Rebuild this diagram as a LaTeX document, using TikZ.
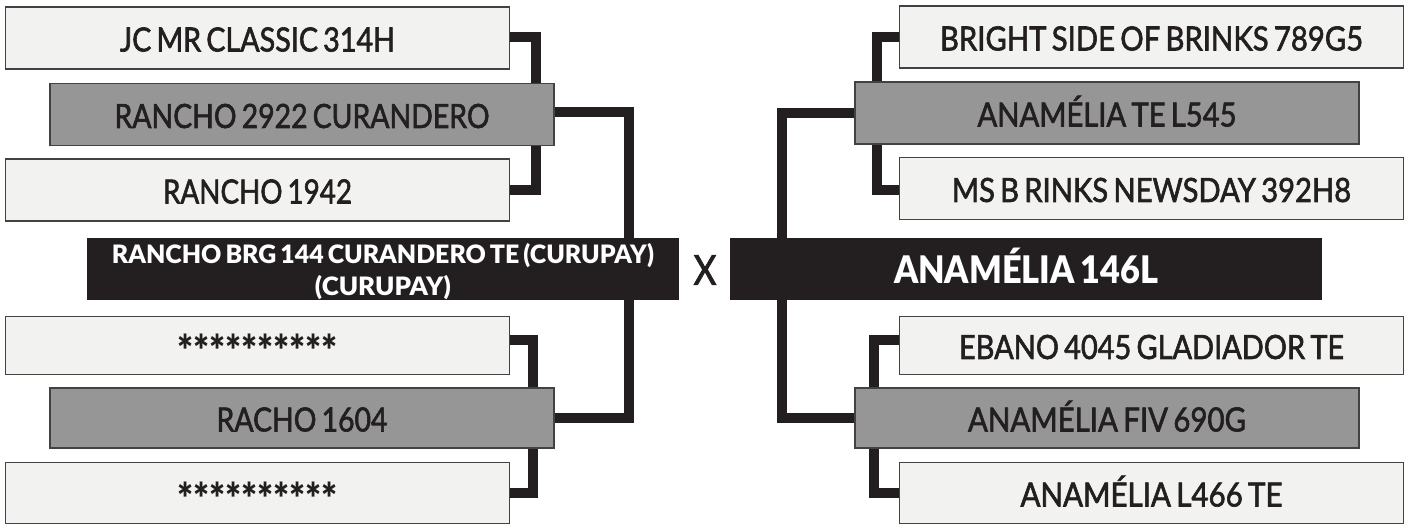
\documentclass[tikz,border=0pt]{standalone}
\usepackage{fontspec}
\usepackage{graphicx}
\setmainfont[FakeBold=2,WordSpace=0.7]{Lato}
\newfontfamily\heavy[WordSpace=0.7]{Lato Black}
\usetikzlibrary{backgrounds}
\newlength\pxu \setlength\pxu{0.75pt}
\newcommand\fitw[2]{\resizebox{#1\pxu}{\height}{#2}}
\newcommand\starsrow{\fitw{161}{\fontsize{32pt}{32pt}\selectfont\heavy **********}}
\definecolor{ink}{HTML}{231F20}
\definecolor{pale}{HTML}{F2F2F0}
\definecolor{midgrey}{HTML}{969696}
\tikzset{
  x=0.75pt,y=-0.75pt,
  ancestor/.style={draw=ink!85,line width=0.9pt,inner sep=0pt,outer sep=0pt,align=center,text=ink,
    text height=20.2pt,text depth=0pt,font=\fontsize{25pt}{28pt}\selectfont},
  palebox/.style={ancestor,fill=pale,minimum width=378pt,minimum height=46.5pt},
  greybox/.style={ancestor,fill=midgrey,minimum width=378pt,minimum height=46.5pt},
  starbox/.style={palebox,text height=32pt},
  rootbox/.style={fill=ink,text=white,inner sep=0pt,outer sep=0pt,align=center,minimum height=46.5pt},
  conn/.style={draw=ink,line width=7.5pt,line cap=butt,line join=miter},
}
\begin{document}
\begin{tikzpicture}
\useasboundingbox (0,0) rectangle (1409,524);
% left
\node[palebox,minimum height=46.5pt] (a1) at (257.5,38) {\fitw{275}{JC MR CLASSIC 314H}};
\node[greybox,minimum height=47pt] (a2) at (302,114.5) {\fitw{375}{RANCHO 2922 CURANDERO}};
\node[palebox] (a3) at (257.5,190) {\fitw{189}{RANCHO 1942}};
\node[rootbox,minimum width=444pt,font=\fontsize{19pt}{24pt}\selectfont\heavy] (al) at (383,269) {\rule{0pt}{19pt}\fitw{542}{RANCHO BRG 144 CURANDERO TE (CURUPAY)}\\\fitw{136}{(CURUPAY)}};
\node[starbox,minimum height=44pt] (a4) at (257.5,345.5) {\starsrow};
\node[greybox,minimum height=45pt] (a5) at (302,418) {\fitw{171}{RACHO 1604}};
\node[starbox,minimum height=46pt] (a6) at (257.5,493) {\starsrow};
% X
\node[font=\fontsize{31pt}{34pt}\selectfont,text=ink,inner sep=0pt] (x) at (705,270) {\fitw{23}{X}};
% right
\node[rootbox,minimum width=444.5pt,text height=21pt,text depth=0pt,font=\fontsize{28.5pt}{34pt}\selectfont\heavy] (ar) at (1026,269) {\fitw{264}{ANAMÉLIA 146L}};
\node[palebox] (b1) at (1151.5,37) {\fitw{423}{BRIGHT SIDE OF BRINKS 789G5}};
\node[greybox] (b2) at (1107,113) {\fitw{259}{ANAMÉLIA TE L545}};
\node[palebox] (b3) at (1151.5,188.5) {\fitw{399}{MS B RINKS NEWSDAY 392H8}};
\node[palebox,minimum height=44pt] (b4) at (1151.5,345.5) {\fitw{385}{EBANO 4045 GLADIADOR TE}};
\node[greybox,minimum height=45pt] (b5) at (1107,418) {\fitw{278}{ANAMÉLIA FIV 690G}};
\node[palebox,minimum height=46pt] (b6) at (1151.5,493) {\fitw{262}{ANAMÉLIA L466 TE}};
% trunks hidden behind the parents
\coordinate (ta) at (536,115);
\coordinate (tb) at (533,418);
\coordinate (tc) at (877,113);
\coordinate (td) at (873.5,418);
\coordinate (tl) at (629,269);
\coordinate (tr) at (782,269);
\begin{scope}[on background layer]
\draw[conn] ([yshift=0.75pt]a1.east) -| (ta);
\draw[conn] (a3.east) -| (ta);
\draw[conn] ([yshift=4pt]a4.east) -| (tb);
\draw[conn] (a6.east) -| (tb);
\draw[conn] ([yshift=1.9pt]a2.east) -| (tl);
\draw[conn] (a5.east) -| (tl);
\draw[conn] (b1.west) -| (tc);
\draw[conn] ([yshift=-1pt]b3.west) -| (tc);
\draw[conn] ([yshift=4pt]b4.west) -| (td);
\draw[conn] (b6.west) -| (td);
\draw[conn] (b2.west) -| (tr);
\draw[conn] (b5.west) -| (tr);
\end{scope}
\end{tikzpicture}
\end{document}
